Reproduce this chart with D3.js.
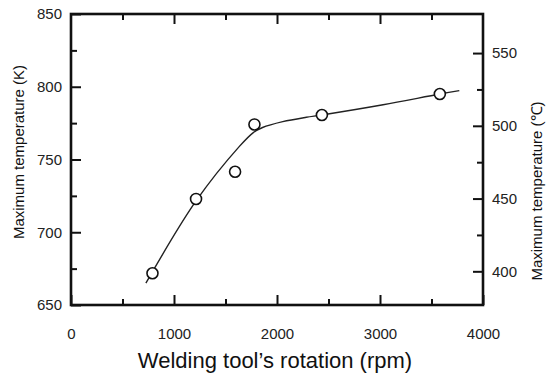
<!DOCTYPE html>
<html>
<head>
<meta charset="utf-8">
<script src="https://cdn.jsdelivr.net/npm/d3@7"></script>
<style>
  body { margin: 0; background: #fff; }
  text { font-family: "Liberation Sans", Arial, sans-serif; }
</style>
</head>
<body>
<div id="chart"></div>
<script>
// measured points (rpm, K)
var rpm = [791, 1214, 1593, 1781, 2436, 3581];
var tempK = [671.8, 722.9, 741.6, 774.1, 780.6, 795.0];

// hand drawn fit curve
var fitRpm = [727, 1214, 1635, 1770, 1860, 2056, 2284, 2436, 3030, 3581, 3770];
var fitK = [665, 721.5, 759, 768.5, 772, 776, 779, 780.6, 787.6, 795, 797.3];

var xTicks = [0, 1000, 2000, 3000, 4000];
var xMinor = [500, 1500, 2500, 3500];
var yTicks = [650, 700, 750, 800, 850];
var yMinor = [675, 725, 775, 825];
var cTicks = [400, 450, 500, 550];
var cMinor = [425, 475, 525];

var width = 546,
    height = 378;
var margin = {left: 71, right: 63, top: 14, bottom: 73};

var svg = d3.select("#chart")
    .append("svg")
    .attr("width", width)
    .attr("height", height);

var x = d3.scaleLinear()
    .domain([0, 4000])
    .range([margin.left, width - margin.right]);

var y = d3.scaleLinear()
    .domain([650, 850])
    .range([height - margin.bottom, margin.top]);

// celsius axis on the right, same pixels
var yC = d3.scaleLinear()
    .domain([650 - 273.15, 850 - 273.15])
    .range([height - margin.bottom, margin.top]);

var fmt = d3.format("d");

function styleAxis(g) {
    g.select(".domain").remove();
    g.selectAll("line").attr("stroke", "#111").attr("stroke-width", 2);
    g.selectAll("text").attr("fill", "#222").style("font-size", "15px");
}

// minor ticks
svg.append("g").attr("transform", "translate(" + margin.left + ",0)")
    .call(d3.axisLeft(y).tickValues(yMinor).tickSize(-6).tickFormat(""))
    .call(styleAxis);
svg.append("g").attr("transform", "translate(" + (width - margin.right) + ",0)")
    .call(d3.axisRight(yC).tickValues(cMinor).tickSize(-6).tickFormat(""))
    .call(styleAxis);
svg.append("g").attr("transform", "translate(0," + (height - margin.bottom) + ")")
    .call(d3.axisBottom(x).tickValues(xMinor).tickSize(-6).tickFormat(""))
    .call(styleAxis);
svg.append("g").attr("transform", "translate(0," + margin.top + ")")
    .call(d3.axisTop(x).tickValues(xMinor).tickSize(-6).tickFormat(""))
    .call(styleAxis);

// major ticks
svg.append("g").attr("transform", "translate(" + margin.left + ",0)")
    .call(d3.axisLeft(y).tickValues(yTicks).tickSize(-10).tickPadding(9).tickFormat(fmt))
    .call(styleAxis);
svg.append("g").attr("transform", "translate(" + (width - margin.right) + ",0)")
    .call(d3.axisRight(yC).tickValues(cTicks).tickSize(-10).tickPadding(9).tickFormat(fmt))
    .call(styleAxis);
svg.append("g").attr("transform", "translate(0," + (height - margin.bottom) + ")")
    .call(d3.axisBottom(x).tickValues(xTicks).tickSize(-10).tickPadding(23).tickFormat(fmt))
    .call(styleAxis);
svg.append("g").attr("transform", "translate(0," + margin.top + ")")
    .call(d3.axisTop(x).tickValues(xTicks.slice(1, -1)).tickSize(-10).tickFormat(""))
    .call(styleAxis);

// frame
svg.append("rect")
    .attr("x", x(0)).attr("y", y(850))
    .attr("width", x(4000) - x(0)).attr("height", y(650) - y(850))
    .attr("fill", "none").attr("stroke", "#111").attr("stroke-width", 2.6);

// curve
var line = d3.line()
    .x(function(d, i) { return x(fitRpm[i]); })
    .y(function(d) { return y(d); })
    .curve(d3.curveCatmullRom.alpha(0.5));

svg.append("path")
    .datum(fitK)
    .attr("d", line)
    .attr("fill", "none")
    .attr("stroke", "#222")
    .attr("stroke-width", 1.4);

svg.append("g")
    .selectAll("circle")
    .data(tempK)
    .enter()
    .append("circle")
    .attr("cx", function(d, i) { return x(rpm[i]); })
    .attr("cy", function(d) { return y(d); })
    .attr("r", 5.5)
    .attr("fill", "#fff")
    .attr("stroke", "#111")
    .attr("stroke-width", 1.6);

// titles
svg.append("text")
    .attr("transform", "translate(24,152) rotate(-90)")
    .attr("text-anchor", "middle")
    .style("font-size", "15px")
    .attr("fill", "#111")
    .text("Maximum temperature (K)");

svg.append("text")
    .attr("transform", "translate(542,191) rotate(-90)")
    .attr("text-anchor", "middle")
    .style("font-size", "15px")
    .attr("fill", "#111")
    .text("Maximum temperature (℃)");

svg.append("text")
    .attr("x", 275).attr("y", 368)
    .attr("text-anchor", "middle")
    .style("font-size", "22px")
    .attr("fill", "#111")
    .text("Welding tool’s rotation (rpm)");
</script>
</body>
</html>
